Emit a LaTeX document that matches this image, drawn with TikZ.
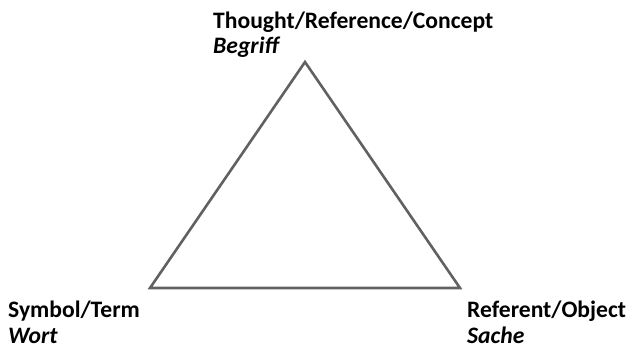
\documentclass[tikz,border=0pt]{standalone}
\usepackage{fontspec}
\setmainfont{Carlito}
\usetikzlibrary{positioning}
\tikzset{
  term/.style={anchor=base west, inner sep=0pt, font=\fontsize{23.6}{28}\selectfont\bfseries},
  german/.style={anchor=base west, inner sep=0pt, font=\fontsize{23.6}{28}\selectfont\bfseries\itshape},
  side/.style={draw=black!62, line width=2.6pt, line join=miter}
}
\begin{document}
\begin{tikzpicture}[x=1pt, y=-1pt]
  \useasboundingbox (0,0) rectangle (629,349);
  % corners of the triangle
  \coordinate (top) at (305,62);
  \coordinate (left) at (150,288);
  \coordinate (right) at (460,288);

  \draw[side] (top) -- (left) -- (right) -- cycle;

  % labels
  \node[term] (concept) at (213,28) {Thought/Reference/Concept};
  \node[german] (begriff) at (213,53) {Begriff};
  \node[term] (symbol) at (8,317) {Symbol/Term};
  \node[german] (wort) at (8,343) {Wort};
  \node[term] (referent) at (467,317) {Referent/Object};
  \node[german] (sache) at (467,343) {Sache};
\end{tikzpicture}
\end{document}
